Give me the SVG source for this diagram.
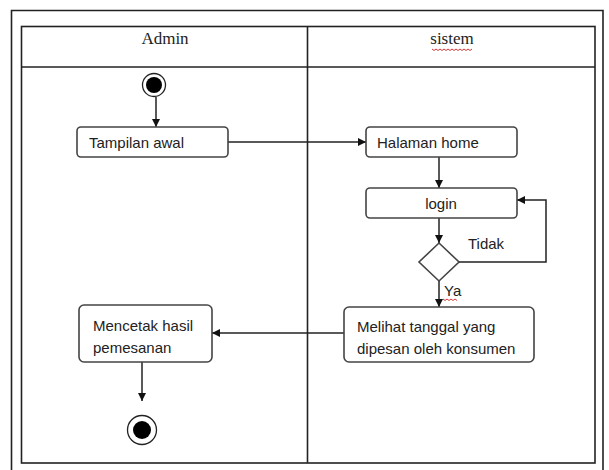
<svg xmlns="http://www.w3.org/2000/svg" width="609" height="470" viewBox="0 0 609 470">
<style>
.frame{fill:none;stroke:#222;stroke-width:1.6}
.box{fill:#fff;stroke:#444;stroke-width:1.6}
.line{fill:none;stroke:#222;stroke-width:1.5}
.lbl{font-family:"Liberation Sans",Arial,sans-serif;font-size:15px;fill:#222}
.hdr{font-family:"Liberation Serif","Times New Roman",serif;font-size:17px;fill:#222}
.wavy{fill:none;stroke:#d02020;stroke-width:0.9}
</style>
<defs>
<marker id="arr" viewBox="0 0 10 10" refX="10" refY="5" markerWidth="8" markerHeight="8" markerUnits="userSpaceOnUse" orient="auto">
<path d="M0,0 L10,5 L0,10 z" fill="#111"/>
</marker>
</defs>
<rect width="609" height="470" fill="#fff"/>
<g id="frame">
<path class="frame" d="M11.5,472 V10.5 H603 V472"/>
<rect class="frame" x="21.5" y="26.5" width="573.5" height="436.5"/>
<line class="frame" x1="21.5" y1="67" x2="595" y2="67"/>
<line class="frame" x1="307.5" y1="26.5" x2="307.5" y2="463"/>
<text class="hdr" x="165" y="44" text-anchor="middle">Admin</text>
<text class="hdr" x="452" y="44" text-anchor="middle">sistem</text>
<path class="wavy" d="M432,49 l2,1.5 l2,-1.5 l2,1.5 l2,-1.5 l2,1.5 l2,-1.5 l2,1.5 l2,-1.5 l2,1.5 l2,-1.5 l2,1.5 l2,-1.5 l2,1.5 l2,-1.5 l2,1.5 l2,-1.5 l2,1.5 l2,-1.5 l2,1.5 l2,-1.5"/>
</g>
<g id="connectors">
<line class="line" x1="156" y1="97" x2="156" y2="127" marker-end="url(#arr)"/>
<line class="line" x1="228" y1="142" x2="366" y2="142" marker-end="url(#arr)"/>
<line class="line" x1="439" y1="157" x2="439" y2="188" marker-end="url(#arr)"/>
<line class="line" x1="439" y1="218" x2="439" y2="243" marker-end="url(#arr)"/>
<polyline class="line" points="459,262 546,262 546,200 517,200" marker-end="url(#arr)"/>
<line class="line" x1="439" y1="281" x2="439" y2="307" marker-end="url(#arr)"/>
<line class="line" x1="344" y1="333" x2="212" y2="333" marker-end="url(#arr)"/>
<line class="line" x1="142" y1="362" x2="142" y2="401" marker-end="url(#arr)"/>
<text class="lbl" x="468" y="249">Tidak</text>
<text class="lbl" x="444" y="296">Ya</text>
<path class="wavy" d="M443,299 l2,1.5 l2,-1.5 l2,1.5 l2,-1.5 l2,1.5 l2,-1.5 l2,1.5"/>
</g>
<g id="start">
<circle cx="154" cy="85" r="11.5" fill="#fff" stroke="#222" stroke-width="1.3"/>
<circle cx="154" cy="85" r="8" fill="#000"/>
</g>
<g id="tampilan">
<rect class="box" x="77" y="127" width="151" height="30" rx="4"/>
<text class="lbl" x="89" y="147.5">Tampilan awal</text>
</g>
<g id="halaman">
<rect class="box" x="366" y="127" width="151" height="30" rx="4"/>
<text class="lbl" x="377" y="147.5">Halaman home</text>
</g>
<g id="login">
<rect class="box" x="366" y="188" width="151" height="30" rx="4"/>
<text class="lbl" x="441" y="208.5" text-anchor="middle">login</text>
</g>
<g id="decision">
<polygon points="439,243 459,262 439,281 419,262" fill="#fff" stroke="#444" stroke-width="1.6"/>
</g>
<g id="melihat">
<rect class="box" x="344" y="307" width="190" height="55" rx="5"/>
<text class="lbl" x="357" y="332">Melihat tanggal yang</text>
<text class="lbl" x="357" y="354">dipesan oleh konsumen</text>
</g>
<g id="mencetak">
<rect class="box" x="79" y="305" width="133" height="57" rx="5"/>
<text class="lbl" x="93" y="331">Mencetak hasil</text>
<text class="lbl" x="93" y="353">pemesanan</text>
</g>
<g id="end">
<circle cx="142" cy="430" r="14.5" fill="#fff" stroke="#222" stroke-width="1.3"/>
<circle cx="142" cy="430" r="9" fill="#000"/>
</g>
</svg>
